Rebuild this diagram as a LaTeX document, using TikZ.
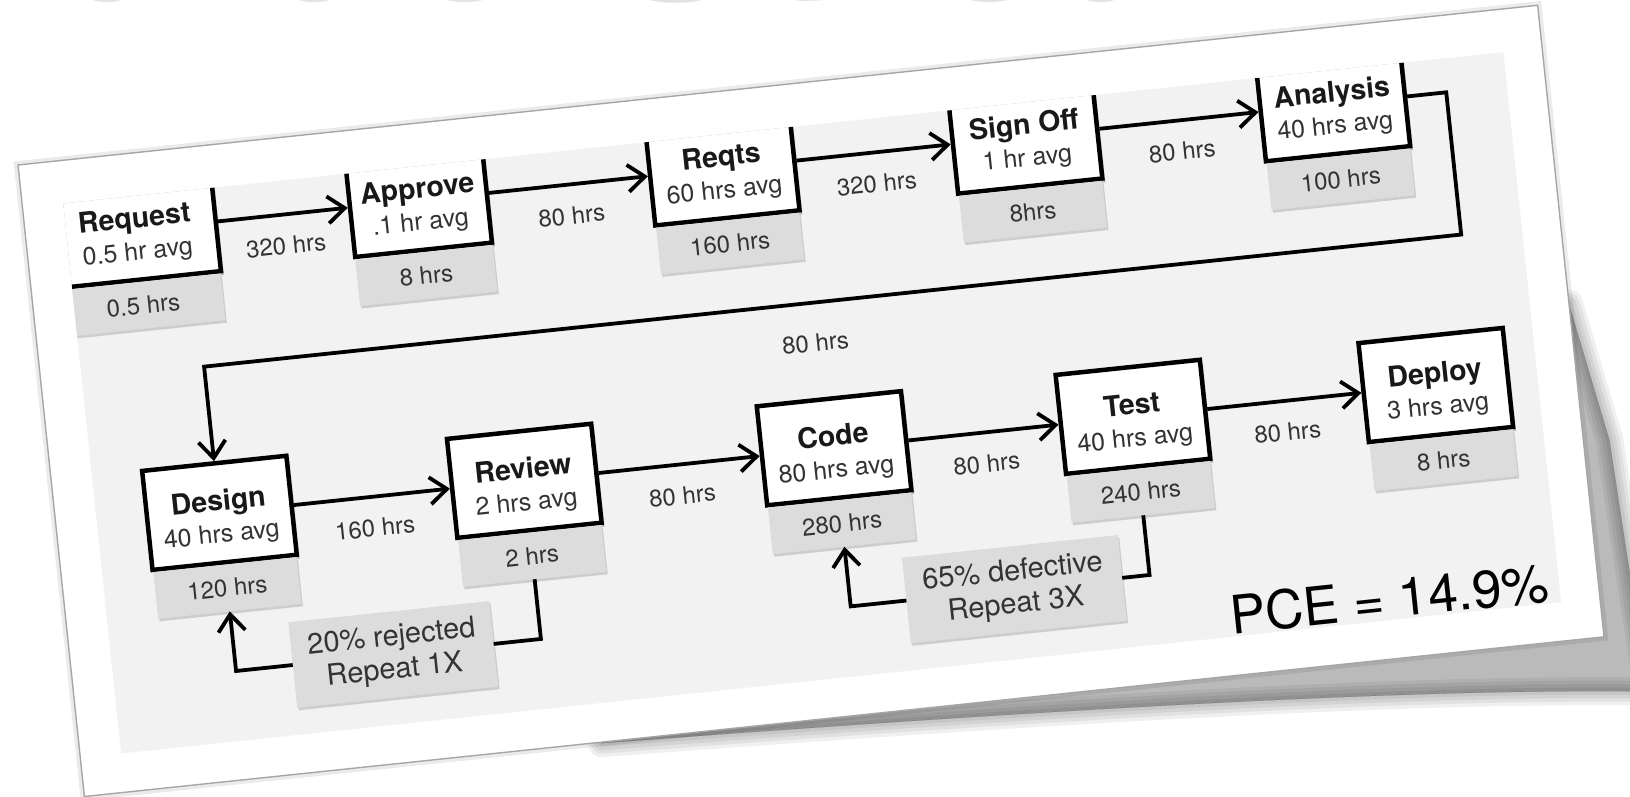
\documentclass[tikz,border=0pt]{standalone}
\usepackage{fontspec}
\setmainfont{TeX Gyre Heros}
\usetikzlibrary{positioning, arrows.meta, shadows}

\definecolor{panelgray}{HTML}{F2F2F2}
\definecolor{tabgray}{HTML}{DCDCDC}
\definecolor{inkgray}{HTML}{333333}
\definecolor{framegray}{HTML}{A6A6A6}
\definecolor{markgray}{HTML}{E2E2E2}

% title line + average line of a process box
\newcommand{\steptext}[2]{\rule{0pt}{33pt}{\color{black!90}\bfseries\fontsize{28.5}{32}\selectfont #1}\\#2}

\begin{document}
\begin{tikzpicture}[x=1pt, y=1pt,
    stepbox/.style={draw, line width=4.5pt, fill=white, minimum width=145pt, minimum height=99.5pt, align=center, inner sep=0pt, text=inkgray, font=\fontsize{25}{32}\selectfont, drop shadow={fill=black, opacity=0.22, shadow xshift=3pt, shadow yshift=-4pt}},
    timebox/.style={fill=tabgray, minimum width=144pt, minimum height=47pt, outer sep=0pt, inner sep=0pt, text=inkgray, font=\fontsize{24}{28}\selectfont, drop shadow={fill=black, opacity=0.15, shadow xshift=1.5pt, shadow yshift=-2.5pt}},
    loopbox/.style={fill=tabgray, minimum height=86pt, align=center, outer sep=0pt, inner sep=0pt, text=inkgray, font=\fontsize{29}{33}\selectfont, drop shadow={fill=black, opacity=0.15, shadow xshift=1.5pt, shadow yshift=-2.5pt}},
    waitlbl/.style={below=17pt, midway, inner sep=3.3pt, text=inkgray, font=\fontsize{24}{28}\selectfont},
    wmark/.style={anchor=base west, inner sep=0pt, text=markgray, font=\bfseries\fontsize{235}{240}\selectfont},
    ln/.style={line width=3.8pt},
    arr/.style={-{Straight Barb[length=17pt,width=27pt]}, line width=3.8pt}
  ]
  \useasboundingbox (0,0) rectangle (1630,-796);
  \clip (0,0) rectangle (1630,-796);
  \fill[white] (0,0) rectangle (1630,-796);

  % faded title at the top edge
  \node[wmark] (wmk) at (-84,0) {Value Stream};

  \begin{scope}[shift={(18,-165)}, rotate=6, transform shape]
    % paper shadow
    \foreach \w in {28,21,14,7,0}
      \filldraw[black, opacity=0.06, line width=\w pt, line join=round]
        (520,-636) .. controls (1000,-650) and (1350,-668) .. (1566,-694) -- (1554,-440) -- (1528,-300) -- cycle;
    \draw[black, opacity=0.08, line width=8pt] (0,0) rectangle (1528,-635);
    \filldraw[fill=white, draw=framegray, line width=1.4pt] (0,0) rectangle (1528,-635);
    \fill[panelgray] (41,-43) rectangle (1489,-596);

    \begin{scope}
      \clip (41,-43) rectangle (1489,-596);
      % first row
      \node[stepbox, minimum width=161.5pt] (req) at (110,-77) {\steptext{Request}{0.5 hr avg}};
      \node[stepbox, minimum width=137.5pt] (app) at (394.5,-77) {\steptext{Approve}{.1 hr avg}};
      \node[stepbox] (rqt) at (700,-77) {\steptext{Reqts}{60 hrs avg}};
      \node[stepbox] (sgn) at (1004.5,-77) {\steptext{Sign Off}{1 hr avg}};
      \node[stepbox] (ana) at (1314,-77) {\steptext{Analysis}{40 hrs avg}};
      % second row
      \node[stepbox] (des) at (164,-367) {\steptext{Design}{40 hrs avg}};
      \node[stepbox] (rev) at (470.5,-367) {\steptext{Review}{2 hrs avg}};
      \node[stepbox] (cod) at (782,-367) {\steptext{Code}{80 hrs avg}};
      \node[stepbox] (tst) at (1082.5,-367) {\steptext{Test}{40 hrs avg}};
      \node[stepbox] (dep) at (1387,-367) {\steptext{Deploy}{3 hrs avg}};

      % process times
      \node[timebox, below=0pt of req, minimum width=160pt] (reqt) {0.5 hrs};
      \node[timebox, below=0pt of app, minimum width=138pt] (appt) {8 hrs};
      \node[timebox, below=0pt of rqt] (rqtt) {160 hrs};
      \node[timebox, below=0pt of sgn] (sgnt) {8hrs};
      \node[timebox, below=0pt of ana] (anat) {100 hrs};
      \node[timebox, below=0pt of des] (dest) {120 hrs};
      \node[timebox, below=0pt of rev] (revt) {2 hrs};
      \node[timebox, below=0pt of cod] (codt) {280 hrs};
      \node[timebox, below=0pt of tst] (tstt) {240 hrs};
      \node[timebox, below=0pt of dep] (dept) {8 hrs};

      % rework loops
      \node[loopbox, minimum width=202pt] (rej) at (322,-526) {20\% rejected\\Repeat 1X};
      \node[loopbox, minimum width=217pt] (dfx) at (946.5,-526) {65\% defective\\Repeat 3X};
      \coordinate (rjA) at (470.5,-526);
      \coordinate (rjB) at (164,-526);
      \coordinate (dfA) at (1082.5,-526);
      \coordinate (dfB) at (782,-526);

      % wait times
      \draw[arr] (req) -- node[waitlbl]{320 hrs} (app);
      \draw[arr] (app) -- node[waitlbl]{80 hrs} (rqt);
      \draw[arr] (rqt) -- node[waitlbl]{320 hrs} (sgn);
      \draw[arr] (sgn) -- node[waitlbl]{80 hrs} (ana);
      \coordinate (retA) at (1428,-77);
      \coordinate (retB) at (1428,-220);
      \coordinate (retC) at (164,-220);
      \draw[arr] (ana) -- (retA) -- (retB) -- node[waitlbl, pos=0.517, below=26pt]{80 hrs} (retC) -- (des);
      \draw[arr] (des) -- node[waitlbl]{160 hrs} (rev);
      \draw[arr] (rev) -- node[waitlbl]{80 hrs} (cod);
      \draw[arr] (cod) -- node[waitlbl]{80 hrs} (tst);
      \draw[arr] (tst) -- node[waitlbl]{80 hrs} (dep);

      \draw[ln] (revt) -- (rjA) -- (rej);
      \draw[arr] (rej) -- (rjB) -- (dest);
      \draw[ln] (tstt) -- (dfA) -- (dfx);
      \draw[arr] (dfx) -- (dfB) -- (codt);

      \node[anchor=base, inner sep=0pt, font=\fontsize{53}{60}\selectfont] (pce) at (1318.5,-594) {PCE = 14.9\%};
    \end{scope}
  \end{scope}
\end{tikzpicture}
\end{document}
